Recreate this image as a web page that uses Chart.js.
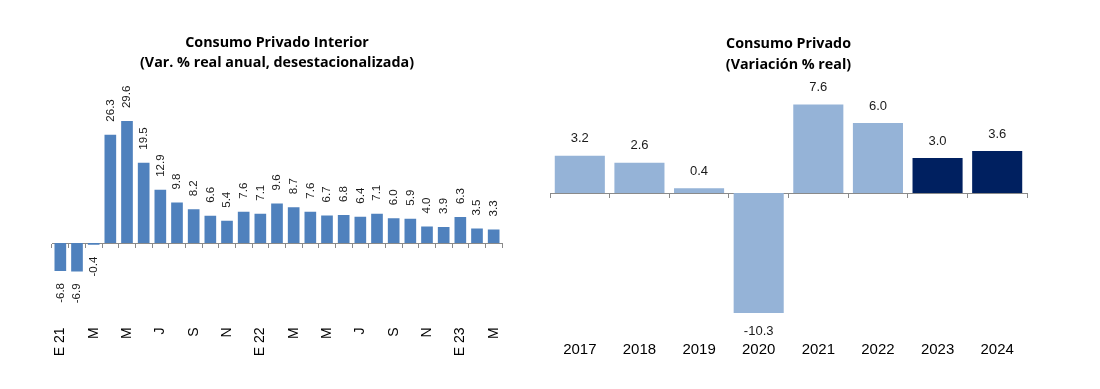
<!DOCTYPE html>
<html><head><meta charset="utf-8">
<script src="https://cdn.jsdelivr.net/npm/chart.js@4"></script>
<style>
html,body{margin:0;padding:0;background:#fff;}
body{width:1100px;height:389px;position:relative;overflow:hidden;}
#w1{position:absolute;left:0;top:0;width:564px;height:389px;}
#w2{position:absolute;left:550px;top:0;width:480px;height:389px;}
</style></head><body>
<div id="w1"><canvas id="c1"></canvas></div>
<div id="w2"><canvas id="c2"></canvas></div>
<script>
// ---- Data: Consumo Privado Interior (monthly, Jan 2021 - Mar 2023)
const monthCategories = ['E 21','F 21','M 21','A 21','M 21','J 21','J 21','A 21','S 21','O 21','N 21','D 21',
  'E 22','F 22','M 22','A 22','M 22','J 22','J 22','A 22','S 22','O 22','N 22','D 22','E 23','F 23','M 23'];
const monthTickLabels = ['E 21','','M','','M','','J','','S','','N','','E 22','','M','','M','','J','','S','','N','','E 23','','M'];
const monthValues = [-6.8,-6.9,-0.4,26.3,29.6,19.5,12.9,9.8,8.2,6.6,5.4,7.6,7.1,9.6,8.7,7.6,6.7,6.8,6.4,7.1,6.0,5.9,4.0,3.9,6.3,3.5,3.3];

// ---- Data: Consumo Privado (annual)
const yearCategories = ['2017','2018','2019','2020','2021','2022','2023','2024'];
const yearValues = [3.2,2.6,0.4,-10.3,7.6,6.0,3.0,3.6];
const yearIsForecast = [false,false,false,false,false,false,true,true];

const barLabels = {
  id:'barLabels',
  afterDatasetsDraw(chart, args, opts) {
    const ctx = chart.ctx;
    const meta = chart.getDatasetMeta(0);
    const vals = chart.data.datasets[0].data;
    ctx.save();
    ctx.font = opts.font; ctx.fillStyle = opts.color;
    meta.data.forEach((bar, i) => {
      const v = vals[i];
      const txt = v.toFixed(1);
      const pos = v >= 0;
      const y = bar.y + (pos ? -opts.gapPos : opts.gapNeg);
      if (opts.vertical) {
        ctx.save();
        ctx.translate(bar.x, y);
        ctx.rotate(-Math.PI/2);
        ctx.textAlign = pos ? 'left' : 'right';
        ctx.textBaseline = 'middle';
        ctx.fillText(txt, 0, 0);
        ctx.restore();
      } else {
        ctx.textAlign = 'center'; ctx.textBaseline = 'middle';
        ctx.fillText(txt, bar.x, y);
      }
    });
    ctx.restore();
  }
};

const AXIS_GRAY = '#8a8a8a';
const titleFont = {family:'"Open Sans", sans-serif', weight:'bold', size:14.3};

new Chart(document.getElementById('c1'), {
  type:'bar',
  data:{labels:monthCategories, datasets:[{data:monthValues, backgroundColor:'#4F81BD', barPercentage:0.7, categoryPercentage:1.0}]},
  plugins:[barLabels],
  options:{
    responsive:true, maintainAspectRatio:false, animation:false,
    layout:{padding:{left:52, right:62, top:0, bottom:0}},
    plugins:{
      legend:{display:false}, tooltip:{enabled:false},
      title:{display:true, text:['Consumo Privado Interior','(Var. % real anual, desestacionalizada)'],
        color:'#000', font:Object.assign({}, titleFont, {lineHeight:'20px'}), padding:{top:32.7, bottom:26.1}},
      barLabels:{font:'11.5px "Liberation Sans", Arial, sans-serif', color:'#1a1a1a', vertical:true, gapPos:13, gapNeg:12}
    },
    scales:{
      x:{type:'category', position:'bottom', offset:true,
        grid:{display:false, drawTicks:false, offset:true}, border:{display:false},
        ticks:{autoSkip:false, maxRotation:90, minRotation:90, padding:2, color:'#000',
          font:{family:'"Liberation Sans", Arial, sans-serif', size:14},
          callback:(v,i)=>monthTickLabels[i]},
        afterFit:(s)=>{s.height = 63.6;}},
      x0:{type:'category', position:{y:0}, offset:true,
        grid:{display:true, drawOnChartArea:false, drawTicks:true, tickLength:4, color:AXIS_GRAY, offset:true},
        border:{display:true, color:AXIS_GRAY, width:1},
        ticks:{display:false}},
      y:{display:false, min:-20, max:35}
    }
  }
});

new Chart(document.getElementById('c2'), {
  type:'bar',
  data:{labels:yearCategories, datasets:[{data:yearValues,
    backgroundColor:yearIsForecast.map(f=>f?'#002060':'#95B3D7'), barPercentage:0.84, categoryPercentage:1.0}]},
  plugins:[barLabels],
  options:{
    responsive:true, maintainAspectRatio:false, animation:false,
    layout:{padding:{left:0, right:3, top:0, bottom:0}},
    plugins:{
      legend:{display:false}, tooltip:{enabled:false},
      title:{display:true, text:['Consumo Privado','(Variación % real)'],
        color:'#000', font:Object.assign({}, titleFont, {lineHeight:'21px'}), padding:{top:33.5, bottom:18.5}},
      barLabels:{font:'13px "Liberation Sans", Arial, sans-serif', color:'#1a1a1a', vertical:false, gapPos:17, gapNeg:18}
    },
    scales:{
      x:{type:'category', position:'bottom', offset:true,
        grid:{display:false, drawTicks:false, offset:true}, border:{display:false},
        ticks:{autoSkip:false, maxRotation:0, minRotation:0, padding:2, color:'#000',
          font:{family:'"Liberation Sans", Arial, sans-serif', size:15}},
        afterFit:(s)=>{s.height = 50.4;}},
      x0:{type:'category', position:{y:0}, offset:true,
        grid:{display:true, drawOnChartArea:false, drawTicks:true, tickLength:4, color:AXIS_GRAY, offset:true},
        border:{display:true, color:AXIS_GRAY, width:1},
        ticks:{display:false}},
      y:{display:false, min:-12.5, max:8.5}
    }
  }
});
</script>
</body></html>
